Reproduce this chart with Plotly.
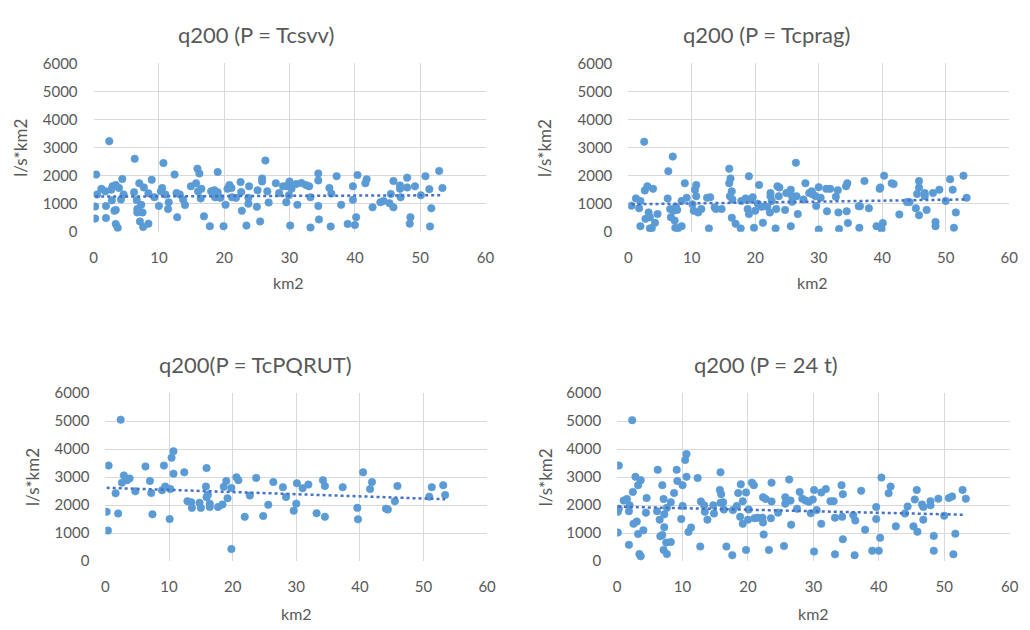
import numpy as np
import plotly.graph_objects as go

# ---- data: catchment area (km2) vs. specific discharge q200 (l/s*km2) ----
tcsvv_km2 = [0.4, 0.25, 0.25, 0.55, 1.2, 1.9, 1.9, 1.8, 2.4, 2.7, 2.8, 2.9, 3.2, 3.4, 3.4, 3.4, 3.7, 3.9,
             4.2, 4.4, 4.6, 6.3, 6.2, 6.6, 6.7, 6.7, 7.0, 7.1, 7.3, 7.5, 7.6, 7.7, 8.4, 8.4, 8.9, 9.3,
             10.0, 10.3, 10.5, 10.7, 11.0, 11.4, 11.5, 12.4, 12.7, 12.8, 13.2, 13.7, 14.0, 14.9, 15.7,
             15.9, 16.2, 16.0, 16.4, 16.5, 16.9, 17.8, 18.0, 18.5, 18.6, 19.0, 19.0, 19.4, 19.9, 20.2,
             20.5, 20.8, 21.1, 21.2, 21.8, 22.5, 22.6, 22.7, 23.4, 23.7, 23.8, 23.7, 25.0, 25.1, 25.5,
             25.8, 25.8, 26.3, 26.6, 26.8, 27.9, 28.4, 29.0, 29.5, 29.6, 29.9, 30.0, 29.9, 30.1, 30.3,
             31.2, 31.0, 31.8, 32.5, 33.0, 33.2, 34.4, 34.4, 34.4, 34.5, 33.2, 36.1, 36.4, 36.3, 37.2,
             37.9, 38.9, 39.7, 39.7, 40.0, 40.2, 40.4, 41.6, 41.8, 42.7, 43.9, 44.4, 45.3, 45.5, 45.9,
             45.9, 46.9, 46.9, 47.0, 48.0, 48.0, 48.5, 48.4, 49.2, 50.1, 50.8, 51.4, 51.5, 51.7, 52.9, 53.4]
tcsvv_q = [2040, 900, 470, 1330, 1530, 920, 490, 1440, 3230, 1500, 1120, 1620, 750, 1670, 780, 280, 140, 1560,
           1150, 1880, 1330, 2600, 1410, 1130, 810, 690, 1730, 370, 960, 690, 170, 1580, 290, 1370, 1850, 1230,
           920, 1440, 1560, 2450, 1330, 810, 1050, 2040, 1380, 520, 1330, 1150, 950, 1620, 1730,
           2250, 2080, 1440, 1190, 1530, 550, 200, 1440, 1480, 1230, 2130, 1410, 1210, 200, 960,
           1530, 1670, 1560, 1230, 1210, 1770, 1420, 750, 220, 1210, 1620, 1000, 890, 1480, 370,
           1790, 1900, 2540, 1440, 1040, 1730, 1380, 1620, 1050, 1620, 1700, 1790, 1300, 220, 1530,
           960, 1700, 1740, 1670, 1620, 1230, 2080, 1830, 920, 440, 150, 1560, 1360, 190, 1980,
           960, 280, 1620, 1140, 240, 520, 2020, 1730, 1870, 870, 1050, 1100, 1020, 1350, 870,
           1810, 1650, 1530, 1230, 1930, 1580, 520, 290, 1620, 1300, 1980, 1520, 190, 840, 2170, 1560]

tcprag_km2 = [0.5, 1.2, 1.9, 1.7, 2.5, 2.6, 3.0, 1.9, 2.7, 3.2, 3.4, 3.7, 3.4, 3.9, 4.2, 4.6, 6.2, 6.3, 7.0,
              6.6, 6.7, 7.1, 7.3, 7.4, 7.5, 7.7, 7.8, 8.4, 8.4, 8.9, 9.2, 10.1, 10.3, 10.5, 10.7, 10.7,
              11.0, 11.5, 12.4, 12.7, 12.9, 13.6, 13.8, 14.7, 15.9, 15.9, 16.1, 16.3, 16.0, 16.4, 16.3,
              16.9, 17.7, 17.8, 18.5, 19.0, 18.8, 19.0, 19.2, 19.6, 19.8, 20.0, 20.4, 20.6, 21.0, 21.2,
              21.9, 22.3, 22.4, 22.4, 22.6, 23.2, 23.3, 23.5, 23.8, 23.7, 24.7, 24.9, 25.6, 25.6, 25.8,
              25.8, 26.4, 26.5, 26.7, 27.6, 27.9, 28.5, 28.9, 29.1, 29.5, 29.6, 30.0, 30.0, 30.3, 31.3,
              31.2, 31.8, 33.0, 33.1, 33.2, 32.7, 34.3, 34.5, 34.4, 34.6, 36.3, 36.4, 36.5, 37.2, 37.9,
              39.1, 39.6, 39.7, 39.9, 40.1, 40.3, 41.5, 41.8, 42.7, 43.9, 44.3, 45.3, 45.5, 45.8, 45.8,
              45.8, 46.7, 46.7, 47.0, 48.0, 48.4, 48.4, 49.0, 50.0, 50.7, 51.1, 51.3, 51.6, 52.8, 53.3]
tcprag_q = [930, 1190, 1100, 840, 3210, 1470, 1620, 200, 460, 690, 120, 130, 520, 1530, 320, 630, 1190, 2160, 2680,
            810, 520, 750, 400, 140, 890, 780, 120, 200, 1100, 1730, 1210, 980, 750, 1500, 1670, 1270,
            690, 810, 1210, 120, 1230, 870, 810, 810, 2250, 1730, 1900, 1440, 1270, 1150, 500,
            290, 120, 1100, 1190, 1980, 810, 630, 1150, 1230, 140, 750, 1000, 1670, 890, 320,
            890, 690, 1270, 1380, 1100, 120, 810, 1620, 1580, 1270, 780, 1380, 200, 1500, 1070,
            1270, 2460, 1270, 630, 1150, 1730, 1380, 1440, 1330, 1270, 920, 1590, 80, 1210, 730,
            1530, 1530, 1480, 690, 100, 1250, 1620, 1730, 730, 310, 910, 140, 910, 1810, 840,
            200, 1530, 1580, 100, 310, 2000, 1730, 1700, 620, 1060, 1060, 840, 1350, 1810, 1580,
            590, 1270, 1380, 780, 1380, 350, 200, 1500, 1100, 1870, 1500, 140, 690, 2000, 1210]

tcpqrut_km2 = [0.2, 0.4, 0.5, 1.6, 2.0, 2.4, 2.6, 2.9, 3.4, 3.8, 4.7, 6.3, 7.0, 7.2, 7.4, 8.9, 9.2, 9.4,
               10.1, 10.2, 10.4, 10.7, 10.7, 12.4, 12.9, 13.5, 13.6, 14.8, 15.0, 15.8, 15.9, 15.9, 16.1,
               16.4, 16.4, 17.7, 18.4, 18.6, 19.0, 19.2, 19.8, 19.8, 20.6, 20.9, 21.9, 22.7, 23.7, 24.8,
               25.6, 26.4, 27.9, 28.4, 29.6, 30.1, 30.0, 31.0, 31.9, 33.2, 34.2, 34.5, 34.5, 37.3, 39.6,
               39.7, 40.5, 41.6, 41.9, 44.1, 44.4, 45.5, 45.9, 50.9, 51.3, 53.1, 53.4]
tcpqrut_q = [1760, 1090, 3410, 2420, 1700, 5050, 2800, 3060, 2890, 2950, 2490, 3380, 2860, 2430, 1670, 2530, 3410, 2660,
             1500, 2570, 3690, 3920, 3120, 3170, 2140, 2100, 1900, 2080, 1900, 2660, 3320, 2280, 2370,
             2050, 1930, 1930, 2020, 2650, 2860, 2240, 430, 2610, 2990, 2890, 1580, 2340, 2970, 1610,
             2010, 2820, 2640, 2290, 1800, 2780, 2050, 2600, 2730, 1710, 2890, 2680, 1580, 2640, 1900,
             1490, 3170, 2570, 2820, 1870, 1840, 2140, 2680, 2300, 2640, 2710, 2360]

t24_km2 = [0.25, 0.1, 0.25, 0.1, 1.0, 1.5, 1.9, 1.8, 1.8, 2.3, 2.4, 2.5, 2.8, 3.0, 3.2, 3.2, 3.4, 3.6, 3.6,
           4.0, 4.4, 4.5, 6.2, 6.1, 6.5, 6.6, 6.9, 6.9, 7.1, 7.2, 7.1, 7.2, 7.5, 7.6, 7.6, 8.2, 8.2, 8.7,
           9.1, 9.2, 10.0, 10.0, 9.8, 10.4, 10.6, 10.6, 10.9, 11.3, 12.3, 12.7, 12.8, 13.3, 13.4, 13.8,
           14.7, 14.8, 15.8, 15.7, 15.9, 15.8, 16.2, 16.3, 16.7, 17.6, 17.7, 18.3, 18.5, 18.9, 18.8,
           19.2, 19.2, 19.7, 19.7, 20.1, 20.0, 20.6, 20.9, 21.0, 21.5, 22.2, 22.3, 22.3, 22.4, 22.7,
           23.2, 23.5, 23.6, 23.6, 24.6, 25.5, 25.7, 25.7, 25.9, 26.3, 26.5, 26.6, 27.5, 27.9, 28.3,
           28.8, 29.3, 29.6, 29.9, 30.1, 30.1, 30.5, 31.2, 31.2, 31.9, 32.6, 33.1, 33.3, 33.3, 34.3,
           34.5, 34.4, 34.5, 36.1, 36.4, 36.3, 37.3, 37.9, 39.0, 39.6, 39.6, 40.0, 40.2, 40.4, 41.5,
           41.8, 42.6, 44.0, 44.4, 45.3, 45.5, 45.8, 45.9, 46.6, 46.8, 46.8, 47.9, 47.9, 48.4, 48.4,
           49.1, 50.0, 50.7, 51.2, 51.4, 51.7, 52.8, 53.3]
t24_q = [3410, 1760, 1870, 1020, 2160, 2220, 1990, 1780, 580, 5030, 2470, 1330, 3010, 1410, 970, 2710, 250, 170, 2890,
         1100, 1730, 2250, 3260, 1780, 1480, 890, 930, 2710, 2220, 1670, 400, 1210, 660, 250, 1900, 680, 2100, 2430,
         3260, 2860, 1970, 2710, 1500, 3610, 3820, 3010, 1040, 1200, 2970, 520, 2130, 1990, 1760, 1480,
         1990, 1700, 3170, 2540, 2390, 2080, 2100, 1840, 520, 210, 1820, 1970, 2430, 2740, 1580,
         1330, 2140, 2450, 400, 1840, 1480, 2800, 2710, 1530, 1550, 1550, 1380, 2280, 950, 2220,
         400, 1530, 2800, 2130, 1730, 540, 2280, 2050, 2130, 2910, 2160, 1300, 1870, 2470, 2230,
         2160, 2120, 1710, 2200, 2540, 340, 1820, 1330, 2450, 2570, 2140, 2140, 1550, 240, 2710,
         2390, 1580, 780, 1640, 1450, 210, 2510, 1120, 370, 1930, 1500, 370, 830, 2980, 2420,
         2660, 1240, 1700, 1950, 1240, 2200, 2540, 1050, 2020, 1480, 1930, 2140, 1990, 900, 370,
         2230, 1620, 2250, 2310, 240, 980, 2540, 2230]

panels = [
    ("q200 (P = Tcsvv)", tcsvv_km2, tcsvv_q),
    ("q200 (P = Tcprag)", tcprag_km2, tcprag_q),
    ("q200(P = TcPQRUT)", tcpqrut_km2, tcpqrut_q),
    ("q200 (P = 24 t)", t24_km2, t24_q),
]

x_ticks = [0, 10, 20, 30, 40, 50, 60]
y_ticks = [0, 1000, 2000, 3000, 4000, 5000, 6000]

# ---- layout geometry (pixels on a 1030 x 630 canvas) ----
W, H = 1030, 630
# plot boxes: left, right, top, bottom
boxes = [
    (90.7, 487.7, 55.0, 228.3),
    (632.3, 1018.0, 55.0, 228.3),
    (102.7, 489.3, 394.3, 567.3),
    (621.0, 1018.5, 394.3, 567.3),
]
title_pos = [(255, 25), (772, 25), (255, 365), (772, 365)]
xtitle_pos = [(288, 281), (819, 281), (296, 621), (820, 621)]
ytitle_pos = [(17, 142), (548, 142), (29, 481), (548, 481)]

FONT = "Lato, Carlito, 'Open Sans', sans-serif"
GREY = "#595959"
GRID = "#d9d9d9"
DOT = "#5b9bd5"
TREND = "#4472c4"

fig = go.Figure()
annotations = []

for i, (title, xs, ys) in enumerate(panels):
    n = i + 1
    xa = "x" if n == 1 else f"x{n}"
    ya = "y" if n == 1 else f"y{n}"
    l, r, t, b = boxes[i]

    fig.add_trace(go.Scatter(
        x=xs, y=ys, mode="markers", xaxis=xa, yaxis=ya,
        marker=dict(color=DOT, size=7.5, line=dict(width=0.6, color=DOT)),
        showlegend=False, hoverinfo="x+y",
    ))

    # linear trend line across the data range
    xa_arr = np.asarray(xs, dtype=float)
    slope, icpt = np.polyfit(xa_arr, np.asarray(ys, dtype=float), 1)
    tx = np.array([xa_arr.min(), xa_arr.max()])
    fig.add_trace(go.Scatter(
        x=tx, y=icpt + slope * tx, mode="lines", xaxis=xa, yaxis=ya,
        line=dict(color=TREND, width=2.5, dash="dot"),
        showlegend=False, hoverinfo="skip",
    ))

    axis_common = dict(
        showgrid=True, gridcolor=GRID, gridwidth=1, zeroline=False,
        showline=False, ticks="outside", tickcolor="rgba(0,0,0,0)",
        tickfont=dict(family=FONT, size=15, color=GREY), fixedrange=True,
    )
    fig.update_layout({
        f"xaxis{'' if n == 1 else n}": dict(
            domain=[l / W, r / W], range=[0, 60], tickvals=x_ticks,
            anchor=ya, ticklen=12, **axis_common),
        f"yaxis{'' if n == 1 else n}": dict(
            domain=[1 - b / H, 1 - t / H], range=[0, 6000], tickvals=y_ticks,
            anchor=xa, ticklen=12, **axis_common),
    })

    tx_, ty_ = title_pos[i]
    annotations.append(dict(
        text=title, x=tx_ / W, y=1 - ty_ / H, xref="paper", yref="paper",
        xanchor="center", yanchor="middle", showarrow=False,
        font=dict(family=FONT, size=22, color=GREY)))
    ax_, ay_ = xtitle_pos[i]
    annotations.append(dict(
        text="km2", x=ax_ / W, y=1 - ay_ / H, xref="paper", yref="paper",
        xanchor="center", yanchor="middle", showarrow=False,
        font=dict(family=FONT, size=16, color=GREY)))
    yx_, yy_ = ytitle_pos[i]
    annotations.append(dict(
        text="l/s*km2", x=yx_ / W, y=1 - yy_ / H, xref="paper", yref="paper",
        xanchor="center", yanchor="middle", showarrow=False, textangle=-90,
        font=dict(family=FONT, size=17, color=GREY)))

fig.update_layout(
    width=W, height=H,
    margin=dict(l=0, r=0, t=0, b=0),
    paper_bgcolor="white", plot_bgcolor="white",
    annotations=annotations,
    hovermode="closest",
)

fig.write_html("out.html")
